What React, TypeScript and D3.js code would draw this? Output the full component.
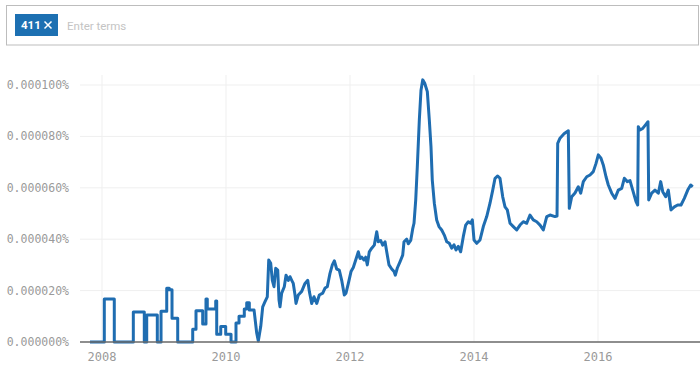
import { useRef, useEffect } from "react";
import * as d3 from "d3";

// share of searches, in units of 0.000001 %
// early period: monthly steps (both corners of each step)
const stepPeriod: [number, number][] = [
  [2007.806, 0], [2008.037, 0], [2008.037, 16.7], [2008.198, 16.7], [2008.198, 0],
  [2008.505, 0], [2008.505, 11.7], [2008.682, 11.7], [2008.682, 0],
  [2008.721, 0], [2008.721, 10.5], [2008.892, 10.5], [2008.892, 0],
  [2008.952, 0], [2008.952, 12], [2009.044, 12], [2009.044, 20.9], [2009.085, 20.9],
  [2009.085, 20.3], [2009.129, 20.3], [2009.129, 9.2], [2009.221, 9.2], [2009.221, 0],
  [2009.463, 0], [2009.463, 5], [2009.516, 5], [2009.516, 12.2], [2009.624, 12.2],
  [2009.624, 7], [2009.677, 7], [2009.677, 16.7], [2009.698, 16.7], [2009.698, 12.8],
  [2009.834, 12.8], [2009.834, 16], [2009.85, 16], [2009.85, 3], [2009.915, 3],
  [2009.915, 6], [2009.995, 6], [2009.995, 3], [2010.081, 3], [2010.081, 0],
  [2010.161, 0], [2010.161, 7.4], [2010.21, 7.4], [2010.21, 10], [2010.295, 10],
  [2010.295, 12.8], [2010.334, 12.8], [2010.334, 15.3], [2010.376, 15.3], [2010.376, 12.5],
];

// later period: weekly values
const trendPeriod: [number, number][] = [
  [2010.452, 12.5], [2010.495, 3.5], [2010.521, 0.4], [2010.56, 6], [2010.592, 13.7],
  [2010.629, 15.7], [2010.666, 17.6], [2010.689, 31.9], [2010.721, 30.6], [2010.747, 24],
  [2010.774, 21.5], [2010.802, 28.7], [2010.834, 28], [2010.855, 16.3], [2010.871, 13.7],
  [2010.898, 19], [2010.94, 21.5], [2010.968, 26], [2011.005, 24], [2011.032, 25.4],
  [2011.06, 24], [2011.085, 22.8], [2011.113, 18.3], [2011.129, 15], [2011.166, 18.3],
  [2011.221, 19.7], [2011.274, 22.8], [2011.318, 24], [2011.344, 19.7], [2011.382, 15],
  [2011.419, 17.6], [2011.463, 15], [2011.505, 18.3], [2011.56, 19], [2011.597, 21],
  [2011.634, 21.5], [2011.677, 26.7], [2011.715, 30], [2011.747, 31.6], [2011.785, 28.4],
  [2011.827, 28], [2011.866, 24], [2011.908, 18.3], [2011.935, 19], [2011.973, 22.8],
  [2012.016, 27.4], [2012.053, 29], [2012.092, 31.9], [2012.134, 35.1], [2012.161, 32.5],
  [2012.189, 33], [2012.226, 31.9], [2012.253, 33], [2012.279, 30], [2012.311, 35.1],
  [2012.35, 36.5], [2012.392, 37.7], [2012.431, 42.9], [2012.456, 39], [2012.495, 39.5],
  [2012.527, 37.7], [2012.565, 39], [2012.592, 35.1], [2012.629, 30], [2012.673, 28.4],
  [2012.71, 27.4], [2012.731, 26], [2012.763, 28.8], [2012.806, 31.2], [2012.85, 33.8],
  [2012.871, 39], [2012.915, 40], [2012.94, 38.2], [2012.979, 39.5], [2013.011, 44],
  [2013.032, 46.2], [2013.06, 55.3], [2013.085, 68], [2013.118, 86.4], [2013.145, 98],
  [2013.173, 102], [2013.205, 100.7], [2013.247, 97.4], [2013.279, 86.4], [2013.306, 76],
  [2013.327, 63], [2013.36, 54], [2013.398, 47.5], [2013.435, 44.9], [2013.479, 43.6],
  [2013.521, 41.6], [2013.56, 39], [2013.602, 38.4], [2013.64, 36.5], [2013.677, 37.8],
  [2013.71, 35.8], [2013.747, 37.2], [2013.785, 35.1], [2013.827, 41], [2013.866, 45.5],
  [2013.908, 46.8], [2013.947, 46.2], [2013.973, 47.5], [2014.0, 39.7], [2014.044, 38.4],
  [2014.097, 39.7], [2014.15, 44.9], [2014.205, 48.8], [2014.258, 54], [2014.302, 59.1],
  [2014.339, 63.7], [2014.382, 64.6], [2014.419, 63.7], [2014.463, 56.5], [2014.5, 52.6],
  [2014.537, 51.4], [2014.581, 46.2], [2014.634, 44.9], [2014.689, 43.6], [2014.742, 45.5],
  [2014.795, 46.8], [2014.85, 46.2], [2014.903, 49.4], [2014.956, 47.5], [2015.011, 46.8],
  [2015.065, 45.5], [2015.118, 43.6], [2015.173, 48.8], [2015.226, 49.4], [2015.306, 48.8],
  [2015.339, 49], [2015.35, 77.3], [2015.387, 79.3], [2015.452, 81], [2015.521, 82.2],
  [2015.537, 52], [2015.576, 56.5], [2015.629, 58], [2015.682, 60.4], [2015.721, 57.9],
  [2015.763, 62.4], [2015.818, 64.3], [2015.871, 65], [2015.924, 66.3], [2015.968, 69.5],
  [2016.005, 72.8], [2016.048, 71.5], [2016.085, 68.9], [2016.129, 64.3], [2016.166, 61.1],
  [2016.221, 57.9], [2016.274, 55.9], [2016.327, 59.1], [2016.382, 59.8], [2016.424, 63.7],
  [2016.473, 62.4], [2016.516, 62.8], [2016.56, 59.1], [2016.613, 54.6], [2016.64, 53.3],
  [2016.65, 83.8], [2016.677, 82.5], [2016.721, 83.1], [2016.763, 84.4], [2016.806, 85.7],
  [2016.818, 55.3], [2016.866, 57.9], [2016.919, 59.1], [2016.973, 57.9], [2017.011, 62.4],
  [2017.044, 58.5], [2017.092, 56.5], [2017.134, 59.1], [2017.177, 51.4], [2017.231, 52.6],
  [2017.285, 53.3], [2017.339, 53.3], [2017.392, 55.9], [2017.447, 59.1], [2017.495, 61.1],
  [2017.527, 60.4],
];

const yTicks = [0, 20, 40, 60, 80, 100];
const xTicks = [2008, 2010, 2012, 2014, 2016];
const searchTerms = ["411"];

const BLUE = "#1f6db1";

export default function App() {
  const svgRef = useRef<SVGSVGElement>(null);

  useEffect(() => {
    if (!svgRef.current) return;
    const svg = d3.select(svgRef.current);
    svg.selectAll("*").remove();

    const width = 700;
    const height = 375;
    svg.attr("width", width).attr("height", height);

    // search box
    svg.append("rect")
      .attr("x", 6.5).attr("y", 5.5)
      .attr("width", 692).attr("height", 39.5)
      .attr("fill", "#fff").attr("stroke", "#bdbdbd");

    let tx = 15;
    searchTerms.forEach((t) => {
      const g = svg.append("g");
      g.append("rect")
        .attr("x", tx).attr("y", 14)
        .attr("width", 43).attr("height", 22)
        .attr("fill", "#1d70b2");
      g.append("text")
        .attr("x", tx + 6).attr("y", 25)
        .attr("dominant-baseline", "central")
        .attr("font-family", "Roboto, sans-serif")
        .attr("font-weight", 700)
        .attr("font-size", 11.5)
        .attr("fill", "#fff")
        .text(t);
      // close cross
      const cx = tx + 33, cy = 25, r = 3.5;
      g.append("path")
        .attr("d", `M${cx - r},${cy - r}L${cx + r},${cy + r}M${cx + r},${cy - r}L${cx - r},${cy + r}`)
        .attr("stroke", "#fff").attr("stroke-width", 1.5);
      tx += 52;
    });
    svg.append("text")
      .attr("x", tx).attr("y", 25.5)
      .attr("dominant-baseline", "central")
      .attr("font-family", "Roboto, sans-serif")
      .attr("font-size", 11.5)
      .attr("fill", "#c4c4c4")
      .text("Enter terms");

    // chart
    const x = d3.scaleLinear().domain([2007.645, 2017.645]).range([80, 700]);
    const y = d3.scaleLinear().domain([0, 100]).range([342, 85]);

    const grid = svg.append("g");
    yTicks.forEach((t) => {
      grid.append("line")
        .attr("x1", 80).attr("x2", 700)
        .attr("y1", y(t)).attr("y2", y(t))
        .attr("stroke", "#efefef");
    });
    xTicks.forEach((t) => {
      grid.append("line")
        .attr("x1", x(t)).attr("x2", x(t))
        .attr("y1", 75).attr("y2", 342)
        .attr("stroke", "#efefef");
    });

    const data = [...stepPeriod, ...trendPeriod];
    const line = d3.line<[number, number]>()
      .x((d) => x(d[0]))
      .y((d) => y(d[1]));

    svg.append("path")
      .datum(data)
      .attr("d", line)
      .attr("fill", "none")
      .attr("stroke", BLUE)
      .attr("stroke-width", 3)
      .attr("stroke-linejoin", "round");

    svg.append("line")
      .attr("x1", 80).attr("x2", 700)
      .attr("y1", y(0)).attr("y2", y(0))
      .attr("stroke", "#6b6b6b").attr("stroke-width", 1.6);

    const fmt = (v: number) => (v / 1e6).toFixed(6) + "%";
    yTicks.forEach((t) => {
      svg.append("text")
        .attr("x", 69).attr("y", y(t))
        .attr("text-anchor", "end")
        .attr("dominant-baseline", "central")
        .attr("font-family", "'DejaVu Sans Mono', monospace")
        .attr("font-size", 11.5)
        .attr("fill", "#9a9a9a")
        .text(fmt(t));
    });
    xTicks.forEach((t) => {
      svg.append("text")
        .attr("x", x(t)).attr("y", 357)
        .attr("text-anchor", "middle")
        .attr("dominant-baseline", "central")
        .attr("font-family", "'DejaVu Sans Mono', monospace")
        .attr("font-size", 12)
        .attr("fill", "#9a9a9a")
        .text(String(t));
    });
  }, []);

  return (
    <div style={{ position: "absolute", left: 0, top: 0, width: 700, height: 375, background: "#fff" }}>
      <svg ref={svgRef} style={{ display: "block" }} />
    </div>
  );
}
